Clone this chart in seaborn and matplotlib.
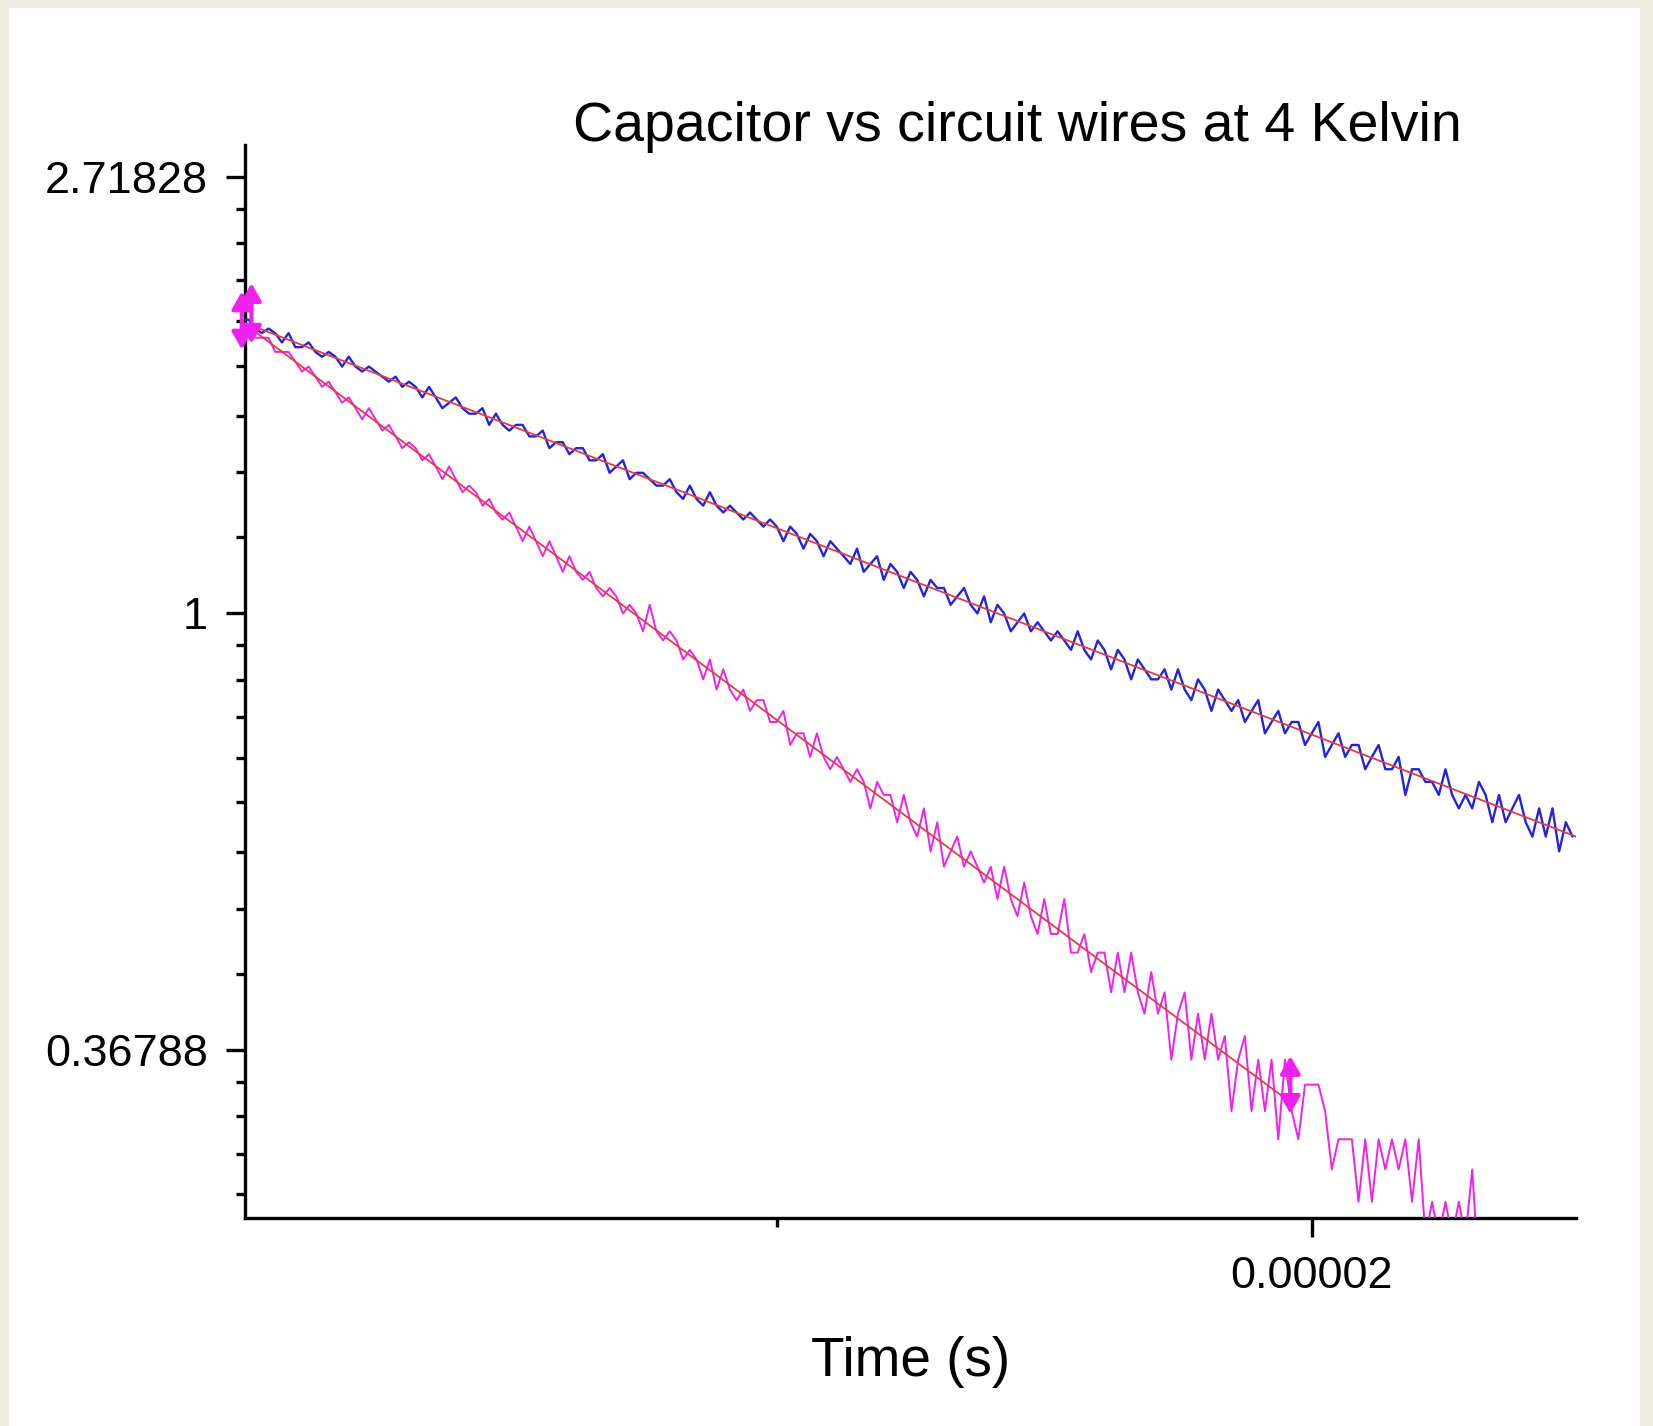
import numpy as np
import pandas as pd
import matplotlib
matplotlib.use("Agg")
import matplotlib.pyplot as plt
import seaborn as sns
from matplotlib.ticker import FixedLocator, FixedFormatter, NullFormatter
from matplotlib.patches import Rectangle

# ---------------- data ----------------
sample_interval_s = 0.125e-6

blue_v = [
    1.96, 1.96, 1.92, 1.90, 1.92, 1.90, 1.86, 1.90,
    1.84, 1.84, 1.86, 1.82, 1.80, 1.82, 1.80, 1.76,
    1.80, 1.76, 1.74, 1.76, 1.74, 1.72, 1.70, 1.72,
    1.68, 1.70, 1.68, 1.64, 1.68, 1.64, 1.60, 1.62,
    1.64, 1.60, 1.58, 1.58, 1.60, 1.54, 1.58, 1.54,
    1.52, 1.54, 1.54, 1.50, 1.50, 1.52, 1.46, 1.48,
    1.48, 1.44, 1.46, 1.46, 1.42, 1.42, 1.44, 1.38,
    1.40, 1.42, 1.36, 1.38, 1.38, 1.36, 1.34, 1.34,
    1.36, 1.32, 1.30, 1.34, 1.30, 1.28, 1.32, 1.28,
    1.26, 1.28, 1.26, 1.24, 1.26, 1.24, 1.22, 1.24,
    1.22, 1.18, 1.22, 1.20, 1.16, 1.20, 1.18, 1.14,
    1.18, 1.16, 1.14, 1.12, 1.16, 1.10, 1.12, 1.14,
    1.08, 1.12, 1.10, 1.06, 1.10, 1.08, 1.04, 1.08,
    1.06, 1.06, 1.02, 1.04, 1.06, 1.02, 1.00, 1.04,
    0.98, 1.02, 1.00, 0.96, 0.98, 1.00, 0.96, 0.98,
    0.96, 0.94, 0.96, 0.94, 0.92, 0.96, 0.92, 0.90,
    0.94, 0.92, 0.88, 0.92, 0.90, 0.86, 0.90, 0.88,
    0.86, 0.86, 0.88, 0.84, 0.88, 0.84, 0.82, 0.86,
    0.84, 0.80, 0.84, 0.82, 0.80, 0.82, 0.78, 0.80,
    0.82, 0.76, 0.78, 0.80, 0.76, 0.78, 0.78, 0.74,
    0.76, 0.78, 0.72, 0.74, 0.76, 0.72, 0.74, 0.74,
    0.70, 0.72, 0.74, 0.70, 0.70, 0.72, 0.66, 0.70,
    0.70, 0.68, 0.68, 0.66, 0.70, 0.66, 0.64, 0.66,
    0.64, 0.68, 0.66, 0.62, 0.66, 0.62, 0.64, 0.66,
    0.62, 0.60, 0.64, 0.60, 0.64, 0.58, 0.62, 0.60,
]

magenta_v = [
    1.96, 1.92, 1.88, 1.88, 1.88, 1.82, 1.82, 1.82,
    1.78, 1.74, 1.76, 1.72, 1.68, 1.70, 1.66, 1.62,
    1.64, 1.60, 1.56, 1.60, 1.56, 1.52, 1.54, 1.50,
    1.46, 1.48, 1.46, 1.42, 1.44, 1.40, 1.36, 1.40,
    1.36, 1.32, 1.34, 1.32, 1.28, 1.30, 1.26, 1.24,
    1.26, 1.22, 1.18, 1.22, 1.18, 1.14, 1.18, 1.14,
    1.10, 1.14, 1.10, 1.08, 1.10, 1.06, 1.04, 1.06,
    1.04, 1.00, 1.02, 1.00, 0.96, 1.02, 0.96, 0.94,
    0.96, 0.94, 0.90, 0.92, 0.90, 0.86, 0.90, 0.84,
    0.88, 0.84, 0.82, 0.84, 0.80, 0.82, 0.82, 0.78,
    0.78, 0.80, 0.74, 0.76, 0.76, 0.72, 0.76, 0.72,
    0.70, 0.72, 0.70, 0.68, 0.70, 0.68, 0.64, 0.68,
    0.66, 0.66, 0.62, 0.66, 0.62, 0.60, 0.64, 0.58,
    0.62, 0.56, 0.58, 0.60, 0.56, 0.58, 0.56, 0.54,
    0.56, 0.52, 0.56, 0.52, 0.50, 0.54, 0.50, 0.48,
    0.52, 0.48, 0.48, 0.52, 0.46, 0.46, 0.48, 0.44,
    0.46, 0.46, 0.42, 0.46, 0.42, 0.46, 0.42, 0.40,
    0.44, 0.40, 0.42, 0.36, 0.40, 0.42, 0.36, 0.40,
    0.36, 0.40, 0.36, 0.38, 0.32, 0.36, 0.38, 0.32,
    0.36, 0.32, 0.36, 0.30, 0.36, 0.32, 0.30, 0.34,
    0.34, 0.34, 0.32, 0.28, 0.30, 0.30, 0.30, 0.26,
    0.30, 0.26, 0.30, 0.28, 0.30, 0.28, 0.30, 0.26,
    0.30, 0.24, 0.26, 0.24, 0.26, 0.24, 0.26, 0.24,
    0.28, 0.22,
]

# exponential fits (end points of the fitted straight lines on the log axis)
blue_fit_t = [0.0, 2.494e-5]
blue_fit_v = [1.95, 0.600]
magenta_fit_t = [0.0, 1.96e-5]
magenta_fit_v = [1.95, 0.3266]

# fit-range markers (double arrows)
range_t = [0.0, 0.18e-6, 1.96e-5]
range_lo = [1.83, 1.855, 0.318]
range_hi = [2.09, 2.13, 0.363]

y_major = [np.e, 1.0, 1.0 / np.e]
y_major_labels = ["2.71828", "1", "0.36788"]
x_major = [2e-5]
x_major_labels = ["0.00002"]
x_minor = [1e-5]

title_text = "Capacitor vs circuit wires at 4 Kelvin"
xlabel_text = "Time (s)"

# ---------------- styling ----------------
sns.set_style("white")
plt.rcParams["font.family"] = ["Liberation Sans", "DejaVu Sans"]

W, H = 1653, 1426
fig = plt.figure(figsize=(W / 100, H / 100), dpi=100, facecolor="#EDEBE1")
fig.add_artist(Rectangle((9 / W, 0), (1640 - 9) / W, (H - 8) / H,
                         transform=fig.transFigure, facecolor="white",
                         edgecolor="none", zorder=-5))

ax_left, ax_right, ax_top, ax_bottom = 245, 1576, 145, 1217.7
ax = fig.add_axes([ax_left / W, 1 - ax_bottom / H,
                   (ax_right - ax_left) / W, (ax_bottom - ax_top) / H])
ax.set_facecolor("white")
ax.set_yscale("log")

blue_t = np.arange(len(blue_v)) * sample_interval_s
magenta_t = np.arange(len(magenta_v)) * sample_interval_s
df_blue = pd.DataFrame({"t": blue_t, "V": blue_v})
df_mag = pd.DataFrame({"t": magenta_t, "V": magenta_v})
df_bfit = pd.DataFrame({"t": blue_fit_t, "V": blue_fit_v})
df_mfit = pd.DataFrame({"t": magenta_fit_t, "V": magenta_fit_v})

sns.lineplot(data=df_blue, x="t", y="V", color="#2424DA", lw=1.7,
             estimator=None, sort=False, ax=ax, zorder=3)
sns.lineplot(data=df_mag, x="t", y="V", color="#F020F0", lw=1.4,
             estimator=None, sort=False, ax=ax, zorder=3)
sns.lineplot(data=df_bfit, x="t", y="V", color="#E43C3C", lw=1.3,
             estimator=None, sort=False, ax=ax, zorder=4)
sns.lineplot(data=df_mfit, x="t", y="V", color="#E43C3C", lw=1.3,
             estimator=None, sort=False, ax=ax, zorder=4)

for t, lo, hi in zip(range_t, range_lo, range_hi):
    ax.annotate("", xy=(t, hi), xytext=(t, lo), annotation_clip=False,
                arrowprops=dict(arrowstyle="<|-|>,head_length=0.7,head_width=0.4",
                                color="#F020F0", lw=3.0, mutation_scale=15,
                                shrinkA=0, shrinkB=0), zorder=5)

ax.set_xlim(0.06e-6, 24.94e-6)
ax.set_ylim(0.2507, 2.923)

ax.yaxis.set_major_locator(FixedLocator(y_major))
ax.yaxis.set_major_formatter(FixedFormatter(y_major_labels))
bounds = [np.e, 1.0, 1.0 / np.e, np.exp(-2.0)]
minor = []
for a, b in zip(bounds[:-1], bounds[1:]):
    minor.extend(np.linspace(b, a, 10)[1:-1])
ax.yaxis.set_minor_locator(FixedLocator(minor))
ax.yaxis.set_minor_formatter(NullFormatter())

ax.xaxis.set_major_locator(FixedLocator(x_major))
ax.xaxis.set_major_formatter(FixedFormatter(x_major_labels))
ax.xaxis.set_minor_locator(FixedLocator(x_minor))
ax.xaxis.set_minor_formatter(NullFormatter())

ax.tick_params(axis="both", which="both", left=True, bottom=True,
               direction="out", color="black", width=2.4)
ax.tick_params(axis="both", which="major", length=14, labelsize=32.5,
               labelcolor="black")
ax.tick_params(axis="y", which="major", pad=12.5)
ax.tick_params(axis="x", which="major", pad=13.7)
ax.tick_params(axis="both", which="minor", length=6.5)

for s in ["top", "right"]:
    ax.spines[s].set_visible(False)
for s in ["left", "bottom"]:
    ax.spines[s].set_linewidth(2.4)
    ax.spines[s].set_color("black")

ax.set_title(title_text, fontsize=40, color="black", pad=0,
             x=(1017 - ax_left) / (ax_right - ax_left),
             y=(ax_bottom - 141) / (ax_bottom - ax_top), va="baseline")
ax.set_xlabel(xlabel_text, fontsize=39.5, color="black")
ax.xaxis.set_label_coords((911 - ax_left) / (ax_right - ax_left),
                          -(1376 - ax_bottom) / (ax_bottom - ax_top))
ax.xaxis.label.set_va("baseline")
ax.set_ylabel("")

fig.savefig("out.png", dpi=100, facecolor=fig.get_facecolor())
